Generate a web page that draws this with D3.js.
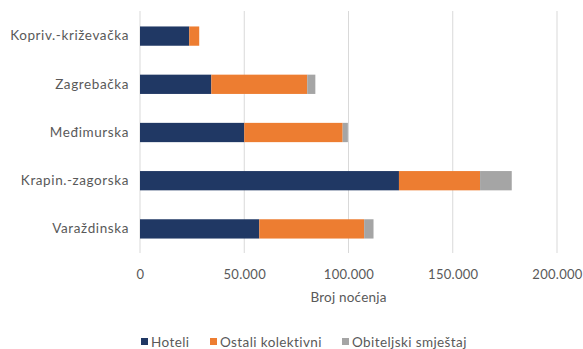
<!DOCTYPE html>
<html><head><meta charset="utf-8">
<script src="https://cdn.jsdelivr.net/npm/d3@7"></script>
<style>body{margin:0;background:#fff}svg{display:block}text{font-family:Lato,"Open Sans",sans-serif;fill:#595959}</style>
</head><body>
<script>
const categories = ["Kopriv.-križevačka","Zagrebačka","Međimurska","Krapin.-zagorska","Varaždinska"];
const seriesNames = ["Hoteli","Ostali kolektivni","Obiteljski smještaj"];
const hoteli = [23600, 34200, 50000, 124200, 57200];
const ostali = [4800, 46000, 47200, 38900, 50300];
const obiteljski = [0, 3900, 2500, 15200, 4500];
const xTicks = [0, 50000, 100000, 150000, 200000];
const colors = ["#203864","#ED7D31","#A5A5A5"];

const W=583,H=349;
const svg=d3.select("body").append("svg").attr("width",W).attr("height",H);
const x=d3.scaleLinear().domain([0,200000]).range([140,557]);
const y=d3.scaleBand().domain(categories).range([12,253]).paddingInner(0.6).paddingOuter(0.3);

svg.append("g").selectAll("line").data(xTicks).join("line")
  .attr("x1",d=>x(d)).attr("x2",d=>x(d)).attr("y1",11).attr("y2",253)
  .attr("stroke","#d9d9d9").attr("stroke-width",1);

const data=categories.map((c,i)=>({cat:c,Hoteli:hoteli[i],"Ostali kolektivni":ostali[i],"Obiteljski smještaj":obiteljski[i]}));
const stack=d3.stack().keys(seriesNames)(data);
svg.append("g").selectAll("g").data(stack).join("g").attr("fill",(d,i)=>colors[i])
  .selectAll("rect").data(d=>d).join("rect")
  .attr("x",d=>x(d[0])).attr("width",d=>x(d[1])-x(d[0]))
  .attr("y",d=>y(d.data.cat)).attr("height",y.bandwidth());

const fmt=d=>d3.format(",")(d).replace(/,/g,".");
const xa=d3.axisBottom(x).tickValues(xTicks).tickFormat(fmt).tickSize(0).tickPadding(0);
const gx=svg.append("g").attr("transform","translate(0,270)").call(xa);
gx.select(".domain").remove();
gx.selectAll("text").attr("font-size",13).attr("letter-spacing",0.3).attr("fill","#595959").style("font-family","Lato,sans-serif");

const ya=d3.axisLeft(y).tickSize(0).tickPadding(11);
const gy=svg.append("g").attr("transform","translate(140,0)").call(ya);
gy.select(".domain").remove();
gy.selectAll("text").attr("font-size",13.5).attr("letter-spacing",0.6).attr("fill","#595959").style("font-family","Lato,sans-serif");

svg.append("text").attr("x",x(100000)).attr("y",302).attr("text-anchor","middle").attr("font-size",13.5).attr("letter-spacing",0.2).text("Broj noćenja");

const lx=[141,210,342];
const lg=svg.append("g");
seriesNames.forEach((n,i)=>{
  lg.append("rect").attr("x",lx[i]).attr("y",338).attr("width",7).attr("height",7).attr("fill",colors[i]);
  lg.append("text").attr("x",lx[i]+10).attr("y",347).attr("font-size",13.5).attr("letter-spacing",0.4).text(n);
});
</script>
</body></html>
